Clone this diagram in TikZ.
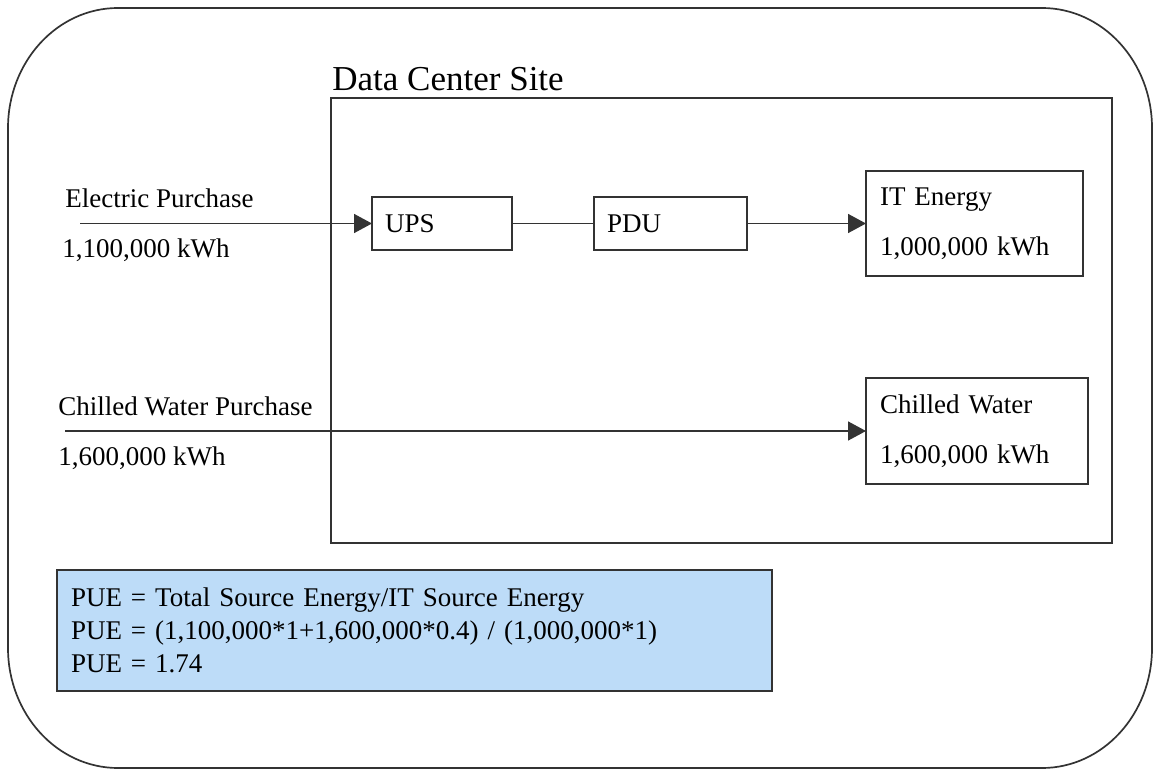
\documentclass[tikz,border=0pt]{standalone}
\usepackage{fontspec}
\setmainfont{Liberation Serif}
\usetikzlibrary{arrows.meta}

\definecolor{pueblue}{RGB}{189,220,248}

\tikzset{
  blk/.style={draw=black!80, line width=0.75pt, inner ysep=0pt, outer sep=0pt, align=left,
    font=\fontsize{13.5}{25}\selectfont},
  wire/.style={black!80, line width=0.75pt},
  flow/.style={wire, -{Triangle[length=9pt,width=9.5pt]}},
  txt/.style={font=\fontsize{13.5}{16}\selectfont, inner sep=0pt, anchor=base west}
}

\begin{document}
\begin{tikzpicture}[x=0.5pt,y=-0.5pt]

    % Page size of the reference (pixel units)
    \useasboundingbox (0,0) rectangle (1155,770);

    % Outer rounded frame
    \draw[wire, line width=0.85pt] (118,8) -- (1042,8) .. controls (1103,8) and (1152,62) .. (1152,128)
        -- (1152,648) .. controls (1152,714) and (1103,768) .. (1042,768)
        -- (118,768) .. controls (57,768) and (8,714) .. (8,648)
        -- (8,128) .. controls (8,62) and (57,8) .. (118,8) -- cycle;

    % Data center site box and its title
    \node[blk, minimum width=390.5pt, minimum height=222.5pt] (site) at (721.5,320.5) {};
    \node[txt, font=\fontsize{17.5}{20}\selectfont] (sitetitle) at (332,91) {Data Center Site};

    % Equipment boxes
    \node[blk, inner xsep=6.5pt, text width=57pt, minimum height=26.5pt] (ups) at (442,223.5) {UPS};
    \node[blk, inner xsep=6.5pt, text width=63.5pt, minimum height=26.5pt] (pdu) at (670.5,223.5) {PDU};
    \node[blk, inner xsep=7pt, text width=94.5pt, minimum height=52.5pt] (it) at (974.5,223.5)
        {IT Energy\\1,000,000 kWh};
    \node[blk, inner xsep=7pt, text width=97pt, minimum height=53pt] (cw) at (977,431)
        {Chilled Water\\1,600,000 kWh};

    % Purchase labels on the left
    \node[txt] (elecname) at (65,207) {Electric Purchase};
    \node[txt] (elecval) at (62,257) {1,100,000 kWh};
    \node[txt] (cwname) at (58,415) {Chilled Water Purchase};
    \node[txt] (cwval) at (58,465) {1,600,000 kWh};

    % Free ends of the incoming lines
    \coordinate (elecin) at (80,223.5);
    \coordinate (cwin) at (65,431);

    % Energy flow
    \draw[flow] (elecin) -- (ups.west);
    \draw[wire] (ups.east) -- (pdu.west);
    \draw[flow] (pdu.east) -- (it.west);
    \draw[flow] (cwin) -- (cw.west);

    % PUE calculation
    \node[blk, fill=pueblue, inner xsep=7pt, text width=343.5pt, minimum height=60.5pt,
        font=\fontsize{13.5}{16.5}\selectfont] (pue) at (414.5,630.5)
        {PUE = Total Source Energy/IT Source Energy\\
         PUE = (1,100,000*1+1,600,000*0.4) / (1,000,000*1)\\
         PUE = 1.74};

\end{tikzpicture}
\end{document}
